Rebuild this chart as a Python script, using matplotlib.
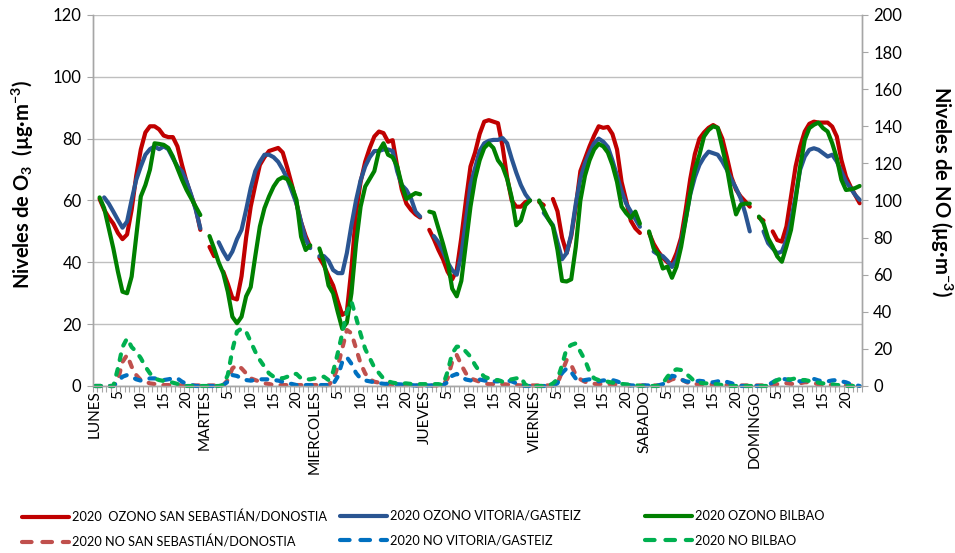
import numpy as np
import matplotlib
matplotlib.use('Agg')
import matplotlib.pyplot as plt
from matplotlib.lines import Line2D

nan = np.nan

# hourly ozone (ug/m3), one row per day, hour 0 missing at each station
o3_donostia = [
    nan, 60.5, 57, 54.5, 52.5, 49.5, 47.5, 49, 57, 68, 76.5, 82, 84, 84, 83, 81, 80.5, 80.5, 77.5, 71.5, 66, 61.5, 57.5, 50.5,
    nan, 45, 42, nan, 37, 33, 28.5, 28, 35.5, 48, 58, 65, 71.5, 74, 76, 76.5, 77, 75.5, 70.5, 65, 59, 53, 48.5, 45,
    nan, 41.5, 39, 35.5, 32.5, 27.5, 23, 24, 38, 56, 66, 72.5, 77, 80.7, 82.3, 81.8, 79, 79.5, 71, 63.5, 59, 57, 55.5, 54.5,
    nan, 50.5, 47.5, 44, 41, 37, 34.5, 37.5, 48, 60, 71, 75.5, 81.5, 85.5, 86, 85.5, 85, 77.5, 67.5, 60, 58, 58, 59.5, 60,
    nan, 59.5, 58.5, nan, 60.5, 56.5, 48, 43, 48.5, 58, 69.5, 73.5, 77.5, 81, 84, 83.5, 83.8, 81.5, 76.5, 66, 60, 53.5, 51, 49.5,
    nan, 49.5, 46, 43.5, 41.5, 40, 39.5, 43, 48, 57, 67, 75, 80, 82, 83.5, 84.4, 83.5, 80, 74, 67.5, 63.5, 61.3, 59.7, 58,
    nan, 54.5, 53.5, nan, 50, 47.2, 46.7, 51.6, 61.3, 71, 77.5, 82.3, 84.8, 85.5, 85.2, 85.2, 85.2, 83.9, 80.7, 73.1, 67.7, 64.5, 61.8, 59.1,
]
o3_gasteiz = [
    nan, nan, 61, 59, 56.4, 53.7, 51.2, 53.2, 60.2, 66.7, 71, 74.8, 76.6, 77.5, 76.6, 77.5, 76.6, 73.7, 71, 69.4, 66.1, 61.8, 57, 51,
    nan, nan, nan, 46.5, 43.5, 41, 43.5, 47.5, 50.5, 57, 64, 69.5, 72.5, 74.8, 74.8, 74, 72.5, 70, 67, 63, 59, 53, 47.5, 44.6,
    nan, 42, 42, 40.5, 37.5, 36.5, 36.5, 43, 52, 60, 66.5, 71, 74, 76, 76, 76.5, 76.5, 76, 69.4, 65, 63.4, 60.7, 56.4, 54.8,
    nan, nan, 48.5, 46.5, 43.5, 40, 37.5, 36, 42.5, 53.5, 65, 70.5, 76, 78.5, 79.3, 79.6, 79.6, 80.2, 78.5, 73.5, 69, 65, 62, 60,
    nan, nan, 56, 54, 52, 46.5, 41, 43, 49, 59, 67, 72, 75.5, 78.5, 80, 79, 77.3, 73, 68, 63, 59, 56.5, 54, 51.5,
    nan, nan, 43.5, 42.5, 42, 40.5, 38.5, 41, 46.5, 54, 62, 67.5, 71.5, 74, 75.8, 75.3, 74.8, 72.6, 69.9, 66.7, 64, 60.7, 55.9, 50,
    nan, nan, 50, 46.2, 44.5, 42.9, 43.5, 47.2, 53.7, 61.3, 70, 74.2, 76.4, 76.9, 76.4, 75.3, 74.2, 74.8, 72.6, 69.4, 66.1, 64, 61.8, 60.2,
]
o3_bilbao = [
    nan, 61, 57.5, 51, 44.5, 37, 30.5, 30, 35.4, 48.3, 61.3, 65, 70, 78.5, 78.3, 78, 77, 74.2, 70.4, 66.7, 63.4, 60.7, 58, 55.3,
    nan, 48.5, 44.5, 40, 36.5, 30.5, 22.4, 20.3, 22.4, 29, 32, 42, 51.6, 57.5, 61.3, 64.5, 66.7, 67.5, 66.9, 64.5, 60.2, 48.3, 44, 45.5,
    nan, 44.5, 40, 32.5, 30, 24, 18.5, 20.5, 30, 46, 58, 64.5, 67, 69.5, 76, 78.5, 74.8, 74, 71, 65, 60.5, 61.5, 62.4, 62,
    nan, 56.4, 56, 51, 46, 40.5, 31.5, 29, 34, 46, 58, 67, 73, 77, 78.5, 77, 73, 71, 67, 61, 52, 53.5, 58.5, 60,
    nan, 60, 57, 54, 51.6, 44, 34, 33.8, 34.5, 45, 60, 68, 73, 76.5, 78.3, 77.5, 75.5, 71.5, 66, 58, 55.9, 54.3, 56.4, 52.5,
    nan, 50, 44.5, 42.7, 38, 38.6, 35, 38.6, 45, 53.7, 62.4, 70, 74.8, 80.7, 82.8, 84, 83.5, 77, 70.5, 62, 55.5, 58.6, 59, 59,
    nan, 54.8, 52.6, 47.8, 45.1, 41.9, 40.2, 45.1, 50.5, 60.2, 71, 79.6, 83.4, 84.5, 85.2, 83.4, 82.3, 78.5, 73.7, 66.7, 63.4, 63.6, 64, 64.7,
]

# hourly NO (ug/m3)
no_donostia = [
    0, 0, 0, 0, 0, 3.2, 13, 16.7, 10.4, 5.9, 3.2, 2.3, 1.4, 1.1, 0.5, 0.5, 0.5, 0.5, 0.5, 0.3, 0.3, 0.3, 0.3, 0.3,
    0.3, 0.3, 0.3, 0.3, 0.5, 3.2, 9.5, 11.3, 9.5, 6.8, 4.1, 3.2, 2.3, 1.4, 1.1, 0.5, 0.5, 0.5, 0.5, 0.5, 0.5, 0.5, 0.5, 0.5,
    0.5, 0.5, 0.5, 0.5, 3.2, 10.4, 20.3, 30.2, 28.4, 20.3, 12.2, 6.8, 3.6, 2.3, 1.8, 1.4, 1.1, 0.8, 0.5, 0.5, 0.5, 0.3, 0.3, 0.3,
    0.3, 0.3, 0.3, 0.3, 0.5, 4.1, 13.1, 16.7, 11.3, 6.8, 4.1, 3.2, 2.3, 1.4, 1, 1, 1, 1, 0.8, 0.5, 0.5, 0.3, 0.3, 0.3,
    0.3, 0.3, 0.3, 0.3, 0.3, 1.4, 7.7, 14, 11.3, 5.9, 3.6, 2.3, 1.5, 1.2, 1, 1, 1, 1, 0.8, 0.5, 0.5, 0.3, 0.3, 0.3,
    0.3, 0.3, 0.3, 0.3, 0.5, 2.3, 3.6, 4.1, 3.6, 2.3, 1.2, 1, 1, 1, 0.8, 0.8, 0.5, 0.5, 0.5, 0.3, 0.3, 0.3, 0.3, 0.3,
    0.3, 0.3, 0.3, 0.3, 0.5, 1, 1.5, 1.5, 1.2, 1, 1.5, 2, 2, 1.5, 1, 0.8, 0.8, 0.5, 0.5, 0.5, 0.3, 0.3, 0.3, 0.3,
]
no_gasteiz = [
    0, 0, 0, 0, 0, 2.3, 5, 5.9, 5, 3.6, 2.9, 3.6, 4.1, 4.1, 3.8, 3.2, 3.6, 4.1, 4.1, 2.3, 1.1, 0.5, 0, 0,
    0, 0, 0, 0, 0.5, 2.3, 5.9, 5.4, 4.1, 3.2, 2.9, 3.2, 3.6, 3.6, 3.6, 3.2, 2.9, 2.3, 1.4, 1.1, 0.5, 0.5, 0.5, 0.5,
    0.5, 0.5, 0.5, 0.5, 1, 5, 13, 15.5, 12, 7, 4, 3, 2.5, 2, 1.5, 1.2, 1, 1, 1, 0.8, 0.5, 0.5, 0.3, 0.3,
    0.3, 0.3, 0.3, 0.3, 0.5, 2, 5.5, 6.5, 5, 3.5, 3, 3, 3.5, 3, 2.5, 2.5, 2.5, 3, 3, 2.5, 1.5, 0.5, 0, 0,
    0, 0, 0, 0, 0, 1.5, 7, 9.5, 7.5, 4, 2.5, 3.2, 3.6, 3.2, 2.5, 3, 3.2, 3.2, 2.5, 1.5, 0.8, 0.3, 0.3, 0.3,
    0.3, 0.3, 0.3, 0.3, 1, 2.5, 5.5, 5, 3.5, 2.5, 2.2, 2.5, 2.8, 2.5, 2, 2, 2.5, 3, 2.2, 1.5, 0.5, 0, 0, 0,
    0, 0, 0, 0.5, 2, 3.5, 4, 3.5, 3.2, 3, 2.5, 3, 3.5, 3.8, 3, 2.5, 2.5, 3, 3.2, 2.5, 2, 1, 0.5, 0,
]
no_bilbao = [
    0, 0, 0, 0, 0, 9.5, 21, 25.7, 21, 18.5, 15, 10.4, 6.8, 4.1, 3.2, 2.7, 2.3, 1.8, 1.1, 0.5, 0, 0, 0, 0,
    0, 0, 0, 0, 0.5, 6, 19.4, 29.3, 31, 29.3, 23.9, 18.5, 14, 10.4, 6.8, 5, 4.7, 4.1, 5, 6.5, 6.5, 4.1, 3.6, 3.6,
    4.1, 4.7, 5, 3.2, 7.7, 17.6, 28.4, 40, 45.5, 37, 28, 20, 15, 10, 7, 4, 2.5, 1.8, 1.4, 1.4, 1.4, 1.1, 1, 1,
    1, 1, 1, 1, 0.5, 7.7, 17.6, 21.2, 21.2, 18.5, 15.8, 11.3, 7.7, 5, 4.1, 3.2, 3.2, 2.3, 3.2, 3.6, 4.1, 4.7, 0.5, 0,
    0, 0, 0, 0, 1.4, 3.6, 11.3, 20.3, 22.1, 23, 18.5, 14, 7.7, 4.1, 3.2, 2.9, 2.3, 1.8, 1.4, 1.1, 0.9, 0.5, 0.5, 0,
    0, 0, 0, 0, 1.4, 5, 7.7, 9, 8.6, 6.8, 4.7, 2.3, 1.8, 1.4, 1.4, 1.1, 0.9, 0.5, 0, 0, 0, 0, 0, 0,
    0, 0, 0, 0, 1.8, 3.2, 4.1, 3.6, 3.6, 4.1, 3.2, 3.2, 2.7, 2.3, 1.8, 1.4, 1.1, 0.9, 0.5, 0.5, 0, 0, 0, 0,
]

days = ['LUNES', 'MARTES', 'MIERCOLES', 'JUEVES', 'VIERNES', 'SABADO', 'DOMINGO']
hour_marks = [0, 5, 10, 15, 20]

labels_o3 = ['2020  OZONO SAN SEBASTIÁN/DONOSTIA', '2020 OZONO VITORIA/GASTEIZ', '2020 OZONO BILBAO']
labels_no = ['2020 NO SAN SEBASTIÁN/DONOSTIA', '2020 NO VITORIA/GASTEIZ', '2020 NO BILBAO']
colors_o3 = ['#C00000', '#2A5592', '#008000']
colors_no = ['#C0504D', '#0070C0', '#00B050']

plt.rcParams['font.family'] = ['Lato', 'DejaVu Sans']
plt.rcParams['mathtext.fontset'] = 'custom'
plt.rcParams['mathtext.rm'] = 'Lato'
plt.rcParams['mathtext.bf'] = 'Lato:bold'
plt.rcParams['mathtext.default'] = 'bf'

axis_grey = '#A6A6A6'
no_dash = (1.4, 2.2)

hours = np.arange(len(o3_donostia))

fig = plt.figure(figsize=(9.55, 5.53), dpi=100)
ax = fig.add_axes([0.0971, 0.3020, 0.8055, 0.6709])
ax2 = ax.twinx()

for vals, col in zip([o3_donostia, o3_gasteiz, o3_bilbao], colors_o3):
    ax.plot(hours, vals, color=col, lw=3, solid_capstyle='round', solid_joinstyle='round')

for vals, col in zip([no_donostia, no_gasteiz, no_bilbao], colors_no):
    ax2.plot(hours, vals, color=col, lw=3, dashes=no_dash,
             dash_capstyle='round', dash_joinstyle='round', clip_on=False)

ax.set_xlim(-0.5, len(hours) - 0.5)
ax.set_ylim(0, 120)
ax2.set_ylim(0, 200)
ax.set_yticks(np.arange(0, 121, 20))
ax2.set_yticks(np.arange(0, 201, 20))

# x labels: day name at hour 0, then every 5 hours
tick_pos = []
tick_txt = []
for d, name in enumerate(days):
    for h in hour_marks:
        tick_pos.append(d * 24 + h)
        tick_txt.append(name if h == 0 else str(h))
ax.set_xticks(tick_pos)
ax.set_xticklabels(tick_txt, rotation=90, fontsize=11)
ax.set_xticks(np.arange(-0.5, len(hours)), minor=True)
ax.tick_params(axis='x', which='major', length=0, pad=3)
ax.tick_params(axis='x', which='minor', length=4, width=0.8, color=axis_grey)

ax.tick_params(axis='y', length=4, width=0.8, color=axis_grey, labelsize=12, pad=4)
ax2.tick_params(axis='y', length=4, width=0.8, color=axis_grey, labelsize=12, pad=4)

ax.grid(axis='y', color='#BFBFBF', lw=1)
for a in (ax, ax2):
    a.spines['top'].set_visible(False)
    for s in ('left', 'right', 'bottom'):
        a.spines[s].set_color(axis_grey)
        a.spines[s].set_linewidth(1)

fig.text(23 / 955, 1 - 184 / 553, r'Niveles de O$_3$  (µg·m$^{-3}$)', rotation=90,
         ha='center', va='center', fontsize=14.5, fontweight='bold')
fig.text(941 / 955, 1 - 191 / 553, r'Niveles de NO (µg·m$^{-3}$)', rotation=270,
         ha='center', va='center', fontsize=14.5, fontweight='bold')

# legend laid out as three columns of (ozone, NO)
col_x = [22, 340, 645]
for i in range(3):
    h_o3 = Line2D([], [], color=colors_o3[i], lw=3, solid_capstyle='round')
    h_no = Line2D([], [], color=colors_no[i], lw=3, dashes=(2.3, 2.6), dash_capstyle='round')
    fig.legend([h_o3, h_no], [labels_o3[i], labels_no[i]], loc='upper left',
               bbox_to_anchor=(col_x[i] / 955, 1 - 510 / 553), frameon=False,
               fontsize=9.2, handlelength=3.7, handletextpad=0.2, labelspacing=1.0,
               borderpad=0, borderaxespad=0)

fig.savefig('out.png', dpi=100)
